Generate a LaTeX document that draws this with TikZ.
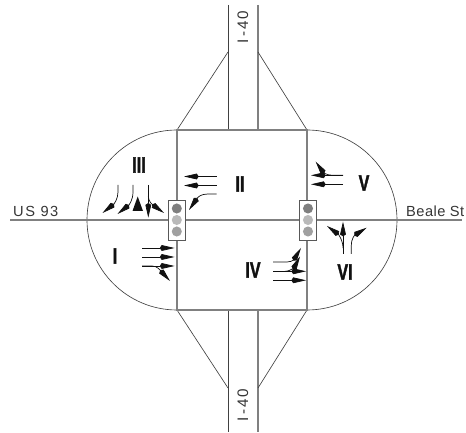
\documentclass[tikz,border=0pt]{standalone}
\usepackage{fontspec}
\setmainfont{Liberation Sans}
\newfontfamily\cadfont[LetterSpace=10]{Liberation Sans}
\newfontfamily\shieldfont[LetterSpace=14]{Liberation Sans}
\newfontfamily\streetfont[LetterSpace=3]{Liberation Sans}
\newfontfamily\phasefont[FakeBold=2.2]{Liberation Sans Bold}
\usetikzlibrary{arrows.meta}
\definecolor{curb}{HTML}{808080}
\definecolor{ink}{HTML}{111111}
\definecolor{lampa}{HTML}{7F7F7F}
\definecolor{lampb}{HTML}{B9B9B9}
\definecolor{lampc}{HTML}{A0A0A0}
\newcommand{\SquareW}{177}
\newcommand{\SquareE}{307}
\newcommand{\SquareN}{130}
\newcommand{\SquareS}{310}
\newcommand{\RoadW}{228}
\newcommand{\RoadE}{258}
\newcommand{\MidY}{220}

\begin{document}
\begin{tikzpicture}[
    x=0.03cm, y=-0.03cm, ink,
    curbline/.style={draw=curb, line width=0.9pt},
    thinline/.style={draw=ink!80, line width=0.55pt},
    lane/.style={-{Kite[length=12.5pt,width=5pt,inset=1.6pt]}, line width=0.6pt, draw=ink},
    signal/.style={draw=ink!70, line width=0.7pt, fill=white, minimum width=15pt, minimum height=34pt, inner sep=0pt},
    lamp/.style={circle, minimum size=8.6pt, inner sep=0pt},
    phase/.style={font=\phasefont\fontsize{19}{19}\selectfont, xscale=0.72, transform shape, inner sep=0pt},
    roadname/.style={font=\cadfont\fontsize{12.5}{13}\selectfont, text=ink!85, inner sep=0pt},
  ]
\useasboundingbox (0,0) rectangle (466,433);

% --- Interstate and ramps ------------------------------------------------------
\draw[thinline] (\RoadW,5) -- (\RoadW,\SquareN);
\draw[curbline] (\RoadE,5) -- (\RoadE,\SquareN);
\draw[thinline] (\RoadW,\SquareS) -- (\RoadW,432);
\draw[curbline] (\RoadE,\SquareS) -- (\RoadE,432);
\draw[thinline] (\SquareW,\SquareN) -- (\RoadW,52);
\draw[thinline] (\SquareE,\SquareN) -- (\RoadE,52);
\draw[thinline] (\SquareW,\SquareS) -- (\RoadW,388);
\draw[thinline] (\SquareE,\SquareS) -- (\RoadE,388);

% --- Loops either side ---------------------------------------------------------
\draw[thinline] (\SquareW,\SquareN) arc[start angle=-90, end angle=-270, radius=90];
\draw[thinline] (\SquareE,\SquareN) arc[start angle=-90, end angle=90, radius=90];

% --- The square ----------------------------------------------------------------
\draw[curbline] (\SquareW,\SquareN) rectangle (\SquareE,\SquareS);

% --- Signals, then the cross street through them --------------------------------
\foreach \name/\x in {west/176.8, east/308} {
  \node[signal] (\name) at (\x,\MidY) {};
  \foreach \i/\dy/\col in {0/-11.5/lampa, 1/0/lampb, 2/11.5/lampc} {
    \node[lamp, fill=\col] (\name\i) at (\x,\MidY+\dy) {};
  }
}
\coordinate (farW) at (10,\MidY);
\coordinate (farE) at (462,\MidY);
\draw[curbline] (farW) -- (west);
\draw[curbline] (west) -- (east);
\draw[curbline] (east) -- (farE);

% --- Road names ----------------------------------------------------------------
\node[roadname, anchor=base west] (usroad) at (13,217) {US 93};
\node[roadname, anchor=base west, font=\streetfont\fontsize{12.5}{13}\selectfont] (beale) at (406,217) {Beale St};
\node[roadname, rotate=90, font=\shieldfont\fontsize{13}{13}\selectfont] (northroad) at (243,27) {I-40};
\node[roadname, rotate=90, font=\shieldfont\fontsize{13}{13}\selectfont] (southroad) at (243,405) {I-40};

% --- Phase I -------------------------------------------------------------------
\node[phase] (one) at (115,256) {I};
\foreach \y in {248,257,266} {
  \draw[lane] (142,\y) -- (174.5,\y);
}
\draw[lane] (142,266) -- (152,266) .. controls (157,266) and (160,270) .. (170,281);

% --- Phase II ------------------------------------------------------------------
\node[phase] (two) at (240,184) {II};
\foreach \y in {176.5,185.5} {
  \draw[lane] (216.7,\y) -- (184,\y);
}
\draw[lane] (216.7,194) -- (208,194) .. controls (201,194) and (198,197) .. (189,210);

% --- Phase III -----------------------------------------------------------------
\node[phase] (three) at (139,165) {III};
\draw[lane] (118,185) -- (118,192) .. controls (118,199) and (114,204) .. (102.5,213);
\draw[lane] (133,185) -- (133,192) .. controls (133,200) and (129,205) .. (117.5,214);
\fill (137.7,196.5) -- (143,211) -- (132.5,211) -- cycle;
\draw[lane] (148.3,185) -- (148.3,217.7);
\draw[lane] (148.3,196) .. controls (148.3,202) and (153,205) .. (164,213);

% --- Phase IV ------------------------------------------------------------------
\node[phase] (four) at (253,270) {IV};
\foreach \y in {271.3,280.3} {
  \draw[lane] (273,\y) -- (306,\y);
}
\draw[lane] (273,262) -- (287,262) .. controls (293,262) and (295,258) .. (301,248);
\draw[lane] (285,271.3) .. controls (292,271) and (295,266) .. (300,256.5);

% --- Phase V -------------------------------------------------------------------
\node[phase] (five) at (364,183) {V};
\foreach \y in {175.3,184.3} {
  \draw[lane] (343,\y) -- (311,\y);
}
\draw[lane] (343,175.3) -- (332,175.3) .. controls (326,175) and (323,172) .. (315.7,161.7);

% --- Phase VI ------------------------------------------------------------------
\node[phase] (six) at (345,272) {VI};
\draw[lane] (343,254) -- (343,221.7);
\draw[lane] (343,248) .. controls (343,240) and (338,234) .. (327,226);
\draw[lane] (351.3,254) -- (351.3,246) .. controls (351.3,238) and (355,235) .. (366.7,227.7);

\end{tikzpicture}
\end{document}
